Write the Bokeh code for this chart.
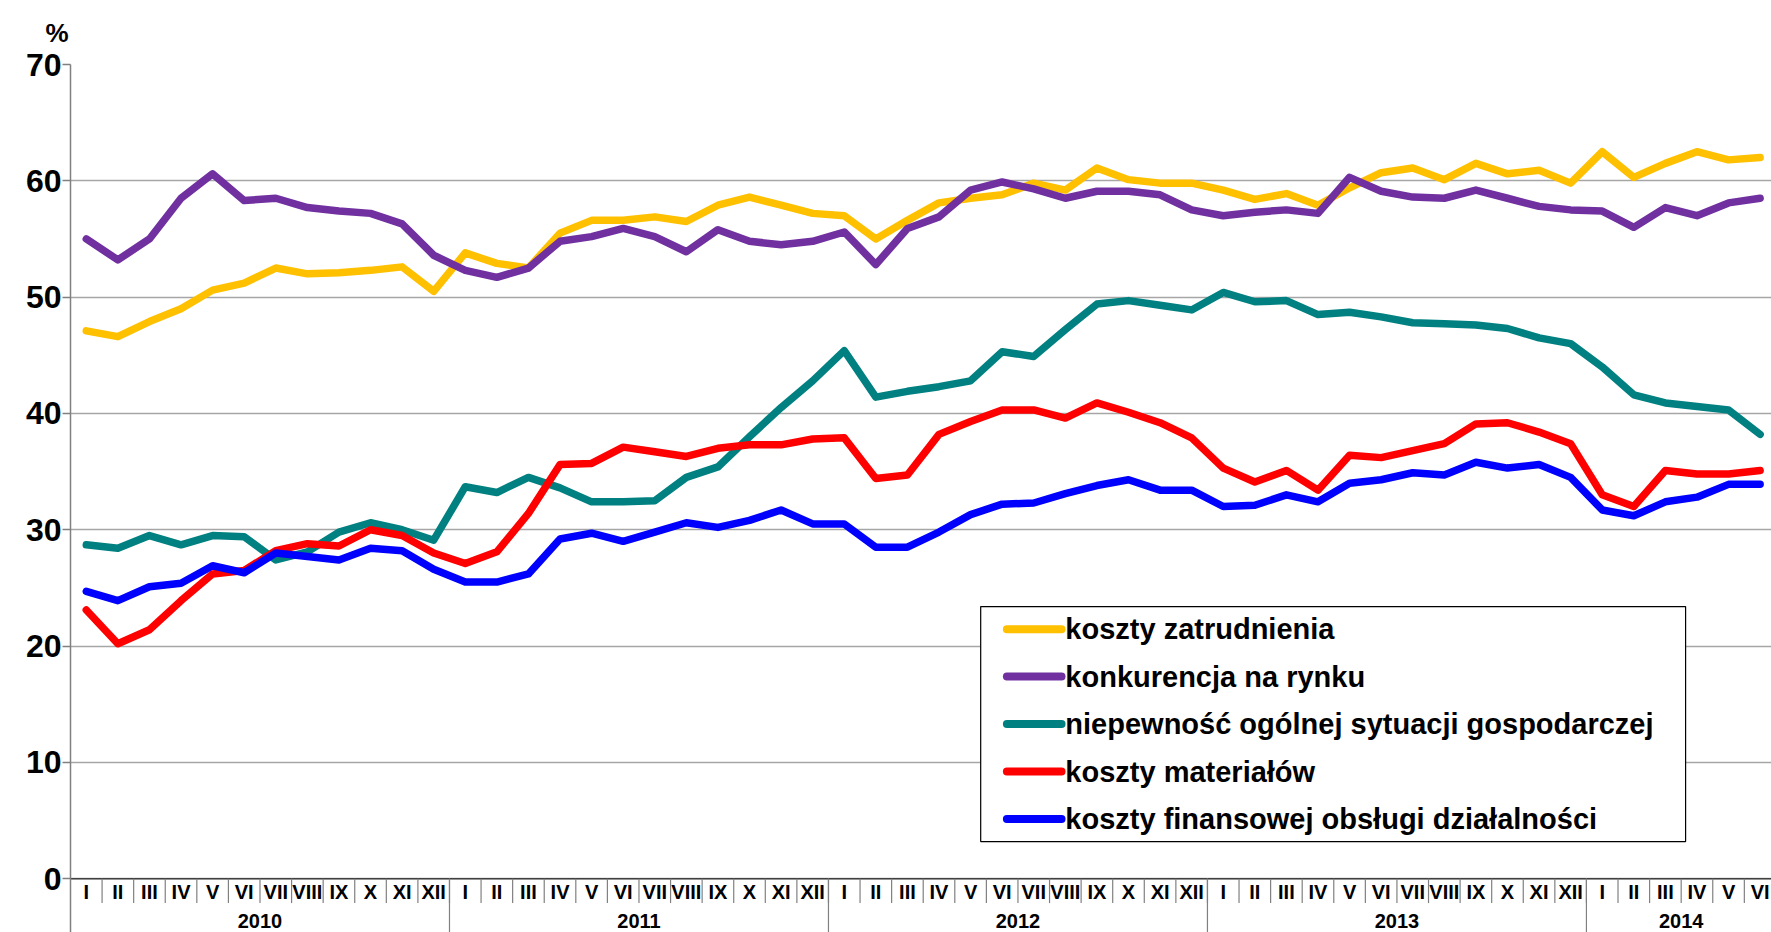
from bokeh.plotting import figure
from bokeh.models import Range1d, FixedTicker, Title
from bokeh.core.properties import value
from bokeh.embed import file_html
from bokeh.resources import INLINE

FONT = "Liberation Sans"

months = ["I", "II", "III", "IV", "V", "VI", "VII", "VIII", "IX", "X", "XI", "XII"]
years = ["2010", "2011", "2012", "2013", "2014"]
months_per_year = [12, 12, 12, 12, 6]

series_names = [
    "koszty zatrudnienia",
    "konkurencja na rynku",
    "niepewność ogólnej sytuacji gospodarczej",
    "koszty materiałów",
    "koszty finansowej obsługi działalności",
]
series_colors = ["#FFC000", "#7030A0", "#008080", "#FF0000", "#0000FF"]

koszty_zatrudnienia = [
    47.1, 46.6, 47.9, 49.0, 50.6, 51.2, 52.5, 52.0, 52.1, 52.3, 52.6, 50.5,
    53.8, 52.9, 52.5, 55.5, 56.6, 56.6, 56.9, 56.5, 57.9, 58.6, 57.9, 57.2,
    57.0, 55.0, 56.6, 58.1, 58.5, 58.8, 59.8, 59.2, 61.1, 60.1, 59.8, 59.8,
    59.2, 58.4, 58.9, 57.9, 59.4, 60.7, 61.1, 60.1, 61.5, 60.6, 60.9, 59.8,
    62.5, 60.3, 61.5, 62.5, 61.8, 62.0,
]
konkurencja = [
    55.0, 53.2, 55.0, 58.5, 60.6, 58.3, 58.5, 57.7, 57.4, 57.2, 56.3, 53.6,
    52.3, 51.7, 52.5, 54.8, 55.2, 55.9, 55.2, 53.9, 55.8, 54.8, 54.5, 54.8,
    55.6, 52.8, 55.9, 56.9, 59.2, 59.9, 59.3, 58.5, 59.1, 59.1, 58.8, 57.5,
    57.0, 57.3, 57.5, 57.2, 60.3, 59.1, 58.6, 58.5, 59.2, 58.5, 57.8, 57.5,
    57.4, 56.0, 57.7, 57.0, 58.1, 58.5,
]
niepewnosc = [
    28.7, 28.4, 29.5, 28.7, 29.5, 29.4, 27.4, 28.1, 29.8, 30.6, 30.0, 29.1,
    33.7, 33.2, 34.5, 33.6, 32.4, 32.4, 32.5, 34.5, 35.4, 38.0, 40.5, 42.8,
    45.4, 41.4, 41.9, 42.3, 42.8, 45.3, 44.9, 47.2, 49.4, 49.7, 49.3, 48.9,
    50.4, 49.6, 49.7, 48.5, 48.7, 48.3, 47.8, 47.7, 47.6, 47.3, 46.5, 46.0,
    44.0, 41.6, 40.9, 40.6, 40.3, 38.2,
]
koszty_materialow = [
    23.1, 20.2, 21.4, 23.9, 26.2, 26.5, 28.2, 28.8, 28.6, 30.0, 29.5, 28.0,
    27.1, 28.1, 31.4, 35.6, 35.7, 37.1, 36.7, 36.3, 37.0, 37.3, 37.3, 37.8,
    37.9, 34.4, 34.7, 38.2, 39.3, 40.3, 40.3, 39.6, 40.9, 40.1, 39.2, 37.9,
    35.3, 34.1, 35.1, 33.4, 36.4, 36.2, 36.8, 37.4, 39.1, 39.2, 38.4, 37.4,
    33.0, 32.0, 35.1, 34.8, 34.8, 35.1,
]
koszty_finansowe = [
    24.7, 23.9, 25.1, 25.4, 26.9, 26.3, 28.0, 27.7, 27.4, 28.4, 28.2, 26.6,
    25.5, 25.5, 26.2, 29.2, 29.7, 29.0, 29.8, 30.6, 30.2, 30.8, 31.7, 30.5,
    30.5, 28.5, 28.5, 29.8, 31.3, 32.2, 32.3, 33.1, 33.8, 34.3, 33.4, 33.4,
    32.0, 32.1, 33.0, 32.4, 34.0, 34.3, 34.9, 34.7, 35.8, 35.3, 35.6, 34.5,
    31.7, 31.2, 32.4, 32.8, 33.9, 33.9,
]
series_values = [koszty_zatrudnienia, konkurencja, niepewnosc, koszty_materialow, koszty_finansowe]

y_ticks = [0, 10, 20, 30, 40, 50, 60, 70]

# ---- derived category positions ----
month_labels = []
for n in months_per_year:
    month_labels += months[:n]
n_months = len(month_labels)
centers = [i + 0.5 for i in range(n_months)]
boundaries = list(range(1, n_months + 1))
year_starts = []
acc = 0
for n in months_per_year:
    year_starts.append(acc)
    acc += n
year_centers = [s + n / 2 for s, n in zip(year_starts, months_per_year)]
year_bounds = year_starts[1:]

Y_BOTTOM = -4.63

p = figure(
    width=1771, height=932,
    x_range=Range1d(0, 53.86), y_range=Range1d(Y_BOTTOM, 70),
    x_axis_type=None,
    output_backend="svg", toolbar_location=None,
    min_border_left=70, min_border_top=64, min_border_right=0, min_border_bottom=0,
)
p.outline_line_color = None
p.background_fill_color = "white"
p.border_fill_color = "white"

# "%" unit label above the value axis
p.add_layout(Title(text="%", align="left", offset=-25, standoff=30, vertical_align="top",
                   text_font=FONT, text_font_style="bold", text_font_size="26px",
                   text_color="black"), "above")

# y axis
ya = p.yaxis[0]
ya.ticker = FixedTicker(ticks=y_ticks)
ya.axis_line_color = "#808080"
ya.axis_line_width = 1.5
ya.major_tick_line_color = "#808080"
ya.major_tick_line_width = 1.5
ya.major_tick_out = 8
ya.major_tick_in = 0
ya.minor_tick_line_color = None
ya.major_label_text_font = FONT
ya.major_label_text_font_style = "bold"
ya.major_label_text_font_size = "32px"
ya.major_label_text_color = "black"
ya.major_label_standoff = 1
p.ygrid.ticker = FixedTicker(ticks=y_ticks)
p.ygrid.grid_line_color = "#A6A6A6"
p.ygrid.grid_line_width = 1.5
p.xgrid.visible = False

# category table below the plot
p.segment(x0=[0], x1=[n_months], y0=[0], y1=[0], line_color="#404040", line_width=1.5)
p.segment(x0=boundaries, x1=boundaries, y0=[0] * len(boundaries), y1=[-2.1] * len(boundaries),
          line_color="#808080", line_width=1.2)
p.segment(x0=year_bounds, x1=year_bounds, y0=[0] * len(year_bounds), y1=[Y_BOTTOM] * len(year_bounds),
          line_color="#808080", line_width=1.2)
p.text(x=centers, y=[-1.15] * n_months, text=month_labels,
       text_font=value(FONT), text_font_style="bold", text_font_size="20px",
       text_align="center", text_baseline="middle", text_color="black")
p.text(x=year_centers, y=[-3.6] * len(years), text=years,
       text_font=value(FONT), text_font_style="bold", text_font_size="20px",
       text_align="center", text_baseline="middle", text_color="black")

# series
for vals, col in zip(series_values, series_colors):
    p.line(x=centers, y=vals, line_color=col, line_width=7.5,
           line_join="round", line_cap="round")

# legend (drawn by hand to follow the original box)
p.quad(left=[28.82], right=[51.14], top=[23.39], bottom=[3.19],
       fill_color="white", line_color="black", line_width=1.2)
row_y = [21.45 - 4.08 * k for k in range(len(series_names))]
for k, (name, col) in enumerate(zip(series_names, series_colors)):
    p.line(x=[29.65, 31.38], y=[row_y[k], row_y[k]], line_color=col, line_width=8, line_cap="round")
p.text(x=[31.5] * len(series_names), y=row_y, text=series_names,
       text_font=value(FONT), text_font_style="bold", text_font_size="29px",
       text_align="left", text_baseline="middle", text_color="black")

open("out.html", "w").write(file_html(p, INLINE))
